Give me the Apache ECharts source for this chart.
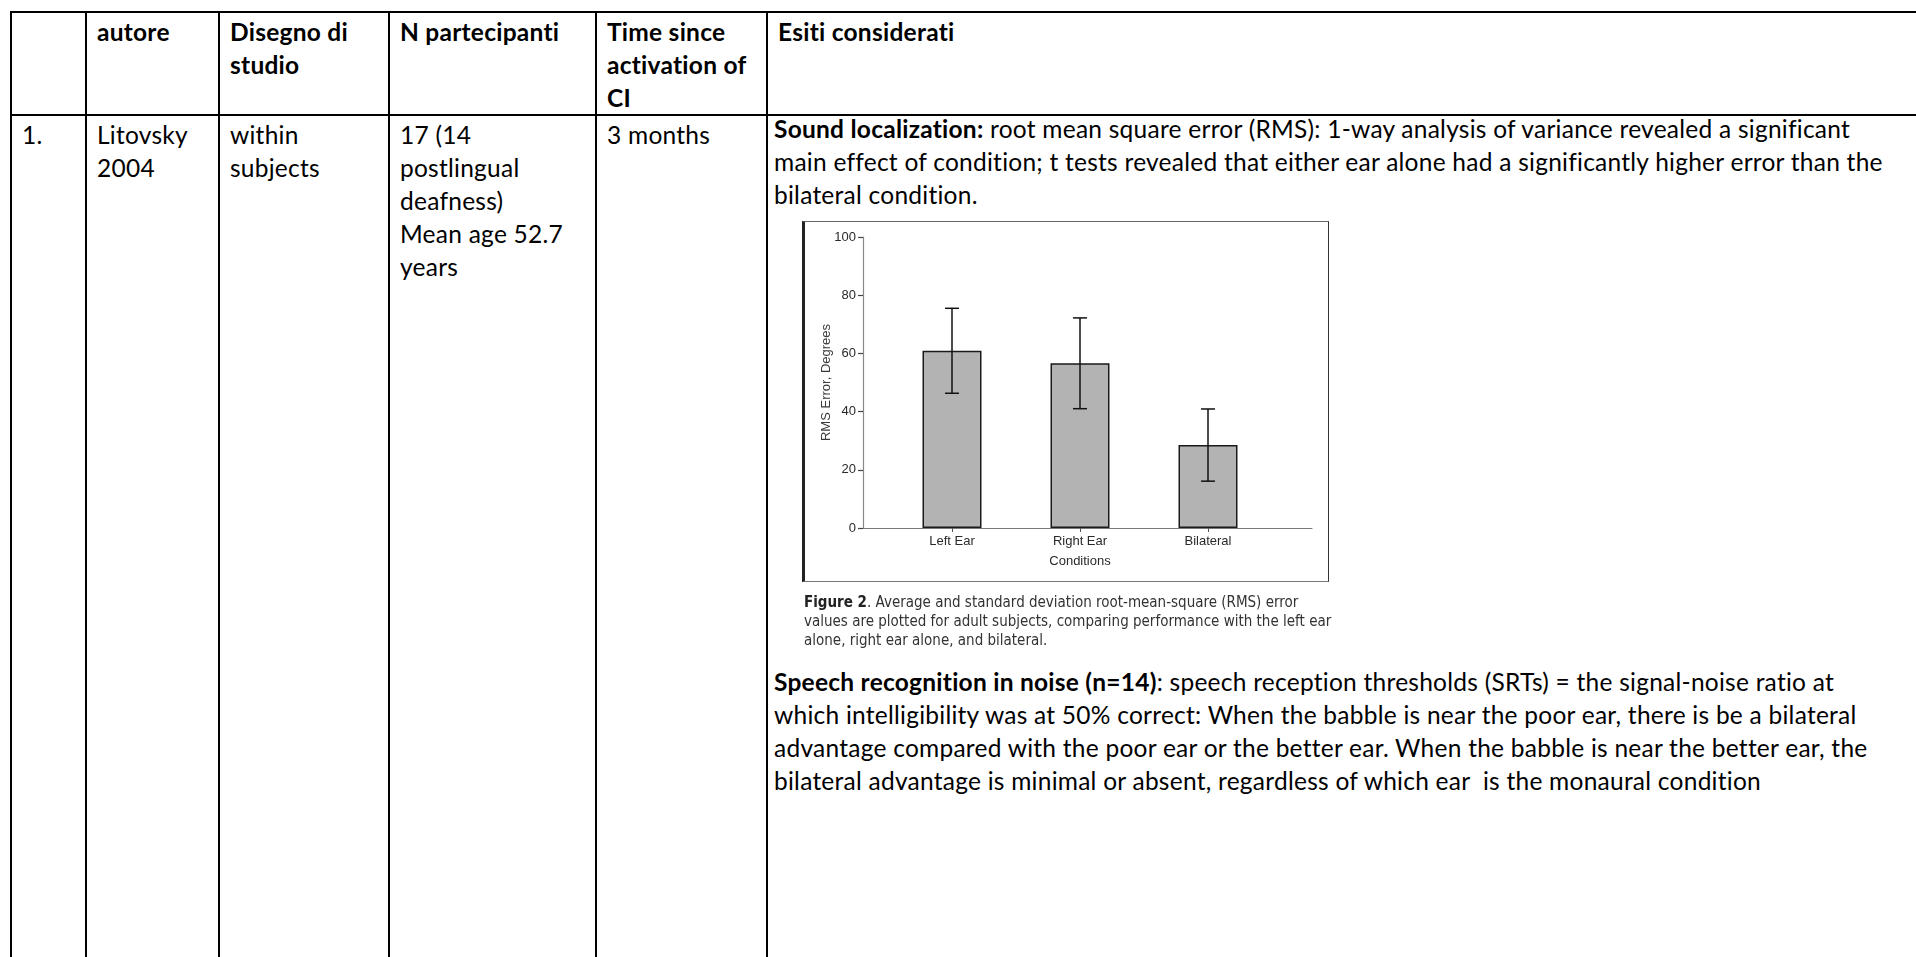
<!DOCTYPE html>
<html lang="it">
<head>
<meta charset="utf-8">
<title>Litovsky 2004 – RMS error</title>
<script src="https://cdn.jsdelivr.net/npm/echarts@6/dist/echarts.min.js"></script>
<style>
  html, body { margin: 0; padding: 0; background: #fff; }
  body { width: 1916px; height: 957px; overflow: hidden; position: relative; }
  table.grid {
    position: absolute; left: 10px; top: 11px;
    border-collapse: collapse; table-layout: fixed; width: 2000px;
    font-family: Lato, "Open Sans", sans-serif; font-size: 24.5px; letter-spacing: 0.25px;
    line-height: 33px; color: #000;
  }
  table.grid th, table.grid td {
    border: 2px solid #000; vertical-align: top; text-align: left;
    padding: 2px 10px 0 10px; white-space: nowrap; overflow: hidden;
  }
  table.grid th { font-weight: 700; }
  tr.head { height: 98px; }
  tr.body { height: 900px; }
  .para { position: absolute; left: 774px; font-family: Lato, "Open Sans", sans-serif;
          font-size: 24.5px; letter-spacing: 0.25px; line-height: 33px; white-space: pre; color: #000; }
  #figure { position: absolute; left: 802px; top: 221px; width: 527px; height: 361px; filter: blur(0.3px); }
  #chart { position: absolute; left: 0; top: 0; width: 527px; height: 361px; }
  #frame { position: absolute; left: 0; top: 0; width: 527px; height: 361px; box-sizing: border-box;
           border-left: 3px solid #222; border-top: 1.5px solid #666; border-right: 1.5px solid #333;
           border-bottom: 1.5px solid #777; pointer-events: none; }
  #caption { position: absolute; left: 804px; top: 593px; filter: blur(0.3px);
             font-family: "Liberation Sans Narrow", "Arial Narrow", "DejaVu Sans Condensed", sans-serif;
             font-stretch: condensed; font-size: 15px; line-height: 19px; color: #333; white-space: pre; }
  #caption b { color: #222; }
</style>
</head>
<body>
<table class="grid">
  <colgroup>
    <col style="width:75px"><col style="width:133px"><col style="width:170px">
    <col style="width:207px"><col style="width:171px"><col style="width:1244px">
  </colgroup>
  <tr class="head">
    <th></th>
    <th>autore</th>
    <th>Disegno di<br>studio</th>
    <th>N partecipanti</th>
    <th>Time since<br>activation of<br>CI</th>
    <th>Esiti considerati</th>
  </tr>
  <tr class="body">
    <td>1.</td>
    <td>Litovsky<br>2004</td>
    <td>within<br>subjects</td>
    <td>17 (14<br>postlingual<br>deafness)<br>Mean age 52.7<br>years</td>
    <td>3 months</td>
    <td></td>
  </tr>
</table>

<div class="para" style="top:112px"><b>Sound localization:</b> root mean square error (RMS): 1-way analysis of variance revealed a significant
main effect of condition; t tests revealed that either ear alone had a significantly higher error than the
bilateral condition.</div>

<div id="figure">
  <div id="chart"></div>
  <div id="frame"></div>
</div>

<div id="caption"><b>Figure 2</b>. Average and standard deviation root-mean-square (RMS) error
values are plotted for adult subjects, comparing performance with the left ear
alone, right ear alone, and bilateral.</div>

<div class="para" style="top:665px"><b>Speech recognition in noise (n=14)</b>: speech reception thresholds (SRTs) = the signal-noise ratio at
which intelligibility was at 50% correct: When the babble is near the poor ear, there is be a bilateral
advantage compared with the poor ear or the better ear. When the babble is near the better ear, the
bilateral advantage is minimal or absent, regardless of which ear  is the monaural condition</div>

<script>
// Listening conditions and RMS localisation error (degrees): mean and standard deviation
const categories = ['Left Ear', 'Right Ear', 'Bilateral'];
const rmsMean = [60.9, 56.6, 28.5];
const rmsSd = [14.6, 15.6, 12.4];
const yAxisMin = 0;
const yAxisMax = 100;
const yAxisStep = 20;

const chartFont = '"Liberation Sans", Arial, sans-serif';

const errorData = categories.map((c, i) => [i, rmsMean[i] - rmsSd[i], rmsMean[i] + rmsSd[i]]);

const chart = echarts.init(document.getElementById('chart'), null, { renderer: 'canvas' });

chart.setOption({
  animation: false,
  backgroundColor: '#fff',
  grid: [
    // frame of the axes (y axis line and the full baseline)
    { left: 61, right: 17, top: 16, bottom: 54 },
    // slots holding the three bars
    { left: 86, right: 57, top: 16, bottom: 54 }
  ],
  xAxis: [
    {
      gridIndex: 0, type: 'value', min: 0, max: 1,
      axisLine: { show: true, lineStyle: { color: '#7a7a7a', width: 1 } },
      axisTick: { show: false }, axisLabel: { show: false }, splitLine: { show: false }
    },
    {
      gridIndex: 1, type: 'category', data: categories,
      axisLine: { show: false },
      axisTick: { show: true, alignWithLabel: true, length: 4, lineStyle: { color: '#555', width: 1 } },
      axisLabel: { margin: 7, fontFamily: chartFont, fontSize: 13, color: '#2a2a2a' },
      name: 'Conditions', nameLocation: 'middle', nameGap: 27, nameMoveOverlap: false,
      nameTextStyle: { fontFamily: chartFont, fontSize: 13, color: '#2a2a2a' }
    }
  ],
  yAxis: [
    {
      gridIndex: 0, type: 'value', min: yAxisMin, max: yAxisMax, interval: yAxisStep,
      axisLine: { show: true, lineStyle: { color: '#888', width: 1.2 } },
      axisTick: { show: true, length: 5, lineStyle: { color: '#444', width: 1.2 } },
      axisLabel: { margin: 7, fontFamily: chartFont, fontSize: 13, color: '#2a2a2a' },
      splitLine: { show: false },
      name: 'RMS Error, Degrees', nameLocation: 'middle', nameGap: 30, nameMoveOverlap: false,
      nameTextStyle: { fontFamily: chartFont, fontSize: 13, color: '#3a3a3a' }
    },
    { gridIndex: 1, type: 'value', min: yAxisMin, max: yAxisMax, show: false }
  ],
  series: [
    {
      type: 'bar', xAxisIndex: 1, yAxisIndex: 1, data: rmsMean, barWidth: 59,
      itemStyle: { color: '#b3b3b3', borderColor: '#1a1a1a', borderWidth: 1.5 }
    },
    {
      type: 'custom', xAxisIndex: 1, yAxisIndex: 1, data: errorData,
      encode: { x: 0, y: [1, 2] },
      renderItem: function (params, api) {
        const idx = api.value(0);
        const lo = api.coord([idx, api.value(1)]);
        const hi = api.coord([idx, api.value(2)]);
        const cap = 7;
        const style = { stroke: '#111', lineWidth: 1.5 };
        return {
          type: 'group',
          children: [
            { type: 'line', shape: { x1: hi[0], y1: hi[1], x2: lo[0], y2: lo[1] }, style: style },
            { type: 'line', shape: { x1: hi[0] - cap, y1: hi[1], x2: hi[0] + cap, y2: hi[1] }, style: style },
            { type: 'line', shape: { x1: lo[0] - cap, y1: lo[1], x2: lo[0] + cap, y2: lo[1] }, style: style }
          ]
        };
      },
      z: 3
    }
  ]
});
</script>
</body>
</html>
